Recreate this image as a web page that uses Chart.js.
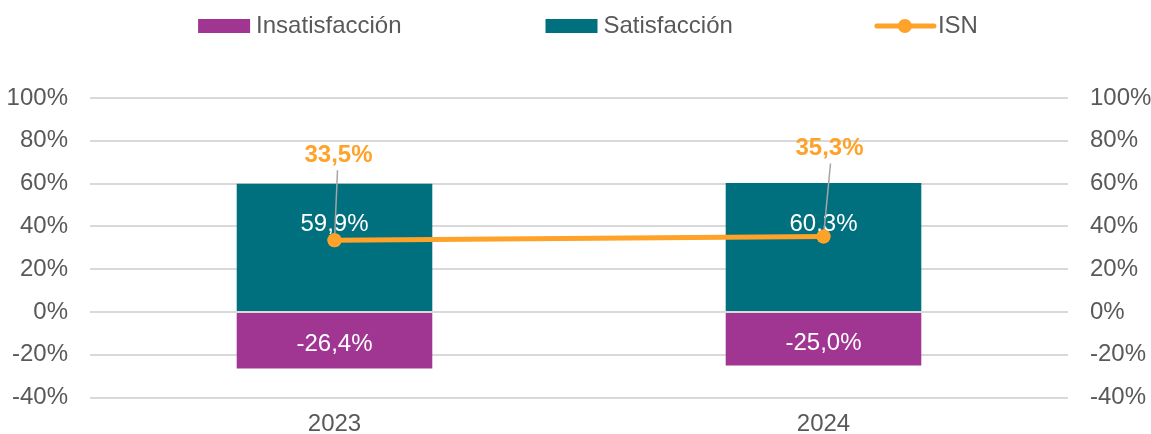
<!DOCTYPE html>
<html>
<head>
<meta charset="utf-8">
<script src="https://cdn.jsdelivr.net/npm/chart.js@4/dist/chart.umd.min.js"></script>
<style>
  html, body { margin: 0; padding: 0; background: #fff; }
  #wrap { width: 1151px; height: 434px; }
</style>
</head>
<body>
<div id="wrap"><canvas id="myChart"></canvas></div>
<script>
const years = ['2023', '2024'];
const insatisfaccion = [-26.4, -25.0];
const satisfaccion = [59.9, 60.3];
const isn = [33.5, 35.3];

const PURPLE = '#A03691';
const TEAL = '#00707E';
const ORANGE = '#FFA229';
const TEXT = '#595959';
const FONT = '"Liberation Sans", Arial, sans-serif';
const FS = 24;

const fmt = v => v.toFixed(1).replace('.', ',') + '%';

// legend drawn by hand so the ISN entry can show line + dot
const legendPlugin = {
  id: 'topLegend',
  afterDraw(chart) {
    const ctx = chart.ctx;
    ctx.save();
    ctx.font = FS + 'px ' + FONT;
    ctx.textBaseline = 'middle';
    const items = [
      { text: 'Insatisfacción', kind: 'box', color: PURPLE },
      { text: 'Satisfacción', kind: 'box', color: TEAL },
      { text: 'ISN', kind: 'line', color: ORANGE },
    ];
    const gap = 144;
    const widths = items.map(it => (it.kind === 'box' ? 58 : 61) + ctx.measureText(it.text).width);
    const total = widths.reduce((a, b) => a + b, 0) + gap * (items.length - 1);
    let x = 588 - total / 2;
    const y = 26;
    items.forEach((it, i) => {
      if (it.kind === 'box') {
        ctx.fillStyle = it.color;
        ctx.fillRect(x, y - 7, 52, 14);
        ctx.fillStyle = TEXT;
        ctx.fillText(it.text, x + 58, y);
      } else {
        ctx.strokeStyle = it.color;
        ctx.lineWidth = 5;
        ctx.lineCap = 'round';
        ctx.beginPath();
        ctx.moveTo(x, y);
        ctx.lineTo(x + 57, y);
        ctx.stroke();
        ctx.fillStyle = it.color;
        ctx.beginPath();
        ctx.arc(x + 28, y, 7, 0, Math.PI * 2);
        ctx.fill();
        ctx.fillStyle = TEXT;
        ctx.fillText(it.text, x + 61, y);
      }
      x += widths[i] + gap;
    });
    ctx.restore();
  }
};

const labelPlugin = {
  id: 'valueLabels',
  afterDatasetsDraw(chart) {
    const ctx = chart.ctx;
    ctx.save();
    ctx.textAlign = 'center';
    ctx.textBaseline = 'middle';
    // bar labels
    ctx.font = FS + 'px ' + FONT;
    ctx.fillStyle = '#fff';
    [0, 1].forEach(di => {
      const ds = chart.data.datasets[di];
      chart.getDatasetMeta(di).data.forEach((bar, i) => {
        const v = ds.data[i];
        let cy = (bar.y + bar.base) / 2;
        if (v > 0) cy -= 23;
        else cy += 4;
        ctx.fillText(fmt(v), bar.x, cy);
      });
    });
    // ISN labels with leader lines
    const offs = [[4, -85], [6, -88]];
    const meta = chart.getDatasetMeta(2);
    meta.data.forEach((pt, i) => {
      const [dx, dy] = offs[i];
      const lx = pt.x + dx, ly = pt.y + dy;
      ctx.strokeStyle = '#A6A6A6';
      ctx.lineWidth = 1.5;
      ctx.beginPath();
      ctx.moveTo(lx - 1 + (i ? 2 : 0), ly + 15);
      ctx.lineTo(pt.x, pt.y);
      ctx.stroke();
      ctx.font = 'bold ' + FS + 'px ' + FONT;
      ctx.fillStyle = ORANGE;
      ctx.fillText(fmt(isn[i]), lx, ly);
    });
    // redraw the points on top of the leader lines
    meta.data.forEach(pt => {
      ctx.fillStyle = ORANGE;
      ctx.beginPath();
      ctx.arc(pt.x, pt.y, 7, 0, Math.PI * 2);
      ctx.fill();
    });
    ctx.restore();
  }
};

const tickFont = { family: FONT, size: FS };

const ctx = document.getElementById('myChart').getContext('2d');
new Chart(ctx, {
  type: 'bar',
  data: {
    labels: years,
    datasets: [
      {
        label: 'Insatisfacción',
        data: insatisfaccion,
        backgroundColor: PURPLE,
        stack: 'bars',
        categoryPercentage: 1,
        barPercentage: 0.4,
        order: 2,
      },
      {
        label: 'Satisfacción',
        data: satisfaccion,
        backgroundColor: TEAL,
        stack: 'bars',
        categoryPercentage: 1,
        barPercentage: 0.4,
        order: 2,
      },
      {
        type: 'line',
        label: 'ISN',
        data: isn,
        borderColor: ORANGE,
        backgroundColor: ORANGE,
        borderWidth: 5,
        pointRadius: 7,
        pointBorderWidth: 0,
        stack: 'isn',
        order: 1,
      },
    ],
  },
  options: {
    responsive: true,
    maintainAspectRatio: false,
    animation: false,
    layout: { padding: { top: 98, bottom: 0, left: 0, right: 0 } },
    plugins: {
      legend: { display: false },
      tooltip: { enabled: false },
    },
    scales: {
      x: {
        stacked: true,
        grid: { display: false, drawTicks: false },
        border: { display: false },
        ticks: { color: TEXT, font: tickFont, padding: 12 },
        afterFit: s => { s.height = 36; },
      },
      y: {
        stacked: true,
        min: -40,
        max: 100,
        position: 'left',
        grid: { color: '#D9D9D9', lineWidth: 2, drawTicks: false },
        border: { display: false },
        ticks: {
          stepSize: 20,
          padding: 22,
          color: TEXT,
          font: tickFont,
          callback: v => v + '%',
        },
        afterFit: s => { s.width = 90; },
      },
      y2: {
        min: -40,
        max: 100,
        position: 'right',
        grid: { display: false, drawTicks: false },
        border: { display: false },
        ticks: {
          stepSize: 20,
          padding: 22,
          color: TEXT,
          font: tickFont,
          callback: v => v + '%',
        },
        afterFit: s => { s.width = 83; },
      },
    },
  },
  plugins: [legendPlugin, labelPlugin],
});
</script>
</body>
</html>
